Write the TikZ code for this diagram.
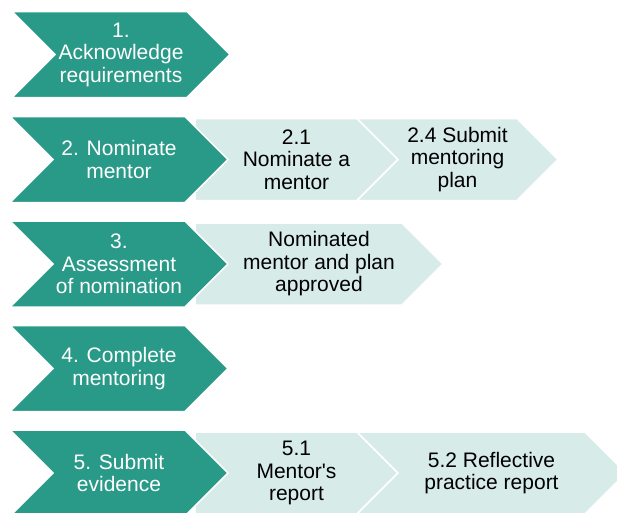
\documentclass[tikz,border=0pt]{standalone}
\usepackage{fontspec}
\setmainfont{Liberation Sans}
\usepackage{tikz}
\usetikzlibrary{shapes.symbols}
\usepackage{xcolor}
\definecolor{darkteal}{RGB}{41,153,136}
\definecolor{paleteal}{RGB}{215,235,232}

\begin{document}
\begin{tikzpicture}[
  x=1pt, y=-1pt,
  stage/.style={signal, signal to=east, signal from=west, signal pointer angle=90,
                fill=darkteal, draw=white, line width=1.5pt, text=white,
                minimum width=218pt, minimum height=86pt, inner sep=0pt,
                align=center, font=\fontsize{21}{22.5}\selectfont},
  task/.style={signal, signal to=east, signal pointer angle=90,
               fill=paleteal, draw=white, line width=1.5pt, text=black,
               minimum height=82pt, inner sep=0pt,
               align=center, font=\fontsize{21}{22.5}\selectfont},
  subtask/.style={task, signal from=west},
  % text of a flat-backed task sits in the middle of the whole arrow
  tasktext/.style={align=center, font=\fontsize{21}{22.5}\selectfont,
                   inner sep=0pt, xshift=20.5pt}
]
  \useasboundingbox (0,0) rectangle (617,512);

  \node[task, minimum width=203pt,
        label={[tasktext]center:{2.1\\Nominate a\\mentor}}] (nommentor) at (276,159.5) {};
  \node[subtask, minimum width=201pt] (subplan) at (457.5,159.5) {2.4 Submit\\mentoring\\plan};
  \node[task, minimum width=248pt,
        label={[tasktext]center:{Nominated\\mentor and plan\\approved}}] (approved) at (298.5,264) {};
  \node[task, minimum width=203pt,
        label={[tasktext]center:{5.1\\Mentor\textquotesingle s\\report}}] (mreport) at (276,473) {};
  \node[subtask, minimum width=269pt] (reflect) at (491.5,473) {5.2 Reflective\\practice report};

  \node[stage] (ack)    at (121,54.5)  {1.\\Acknowledge\\requirements};
  \node[stage] (nom)    at (119,159.5) {2. Nominate\\mentor};
  \node[stage] (assess) at (119,264)   {3.\\Assessment\\of nomination};
  \node[stage] (compl)  at (119,368.5) {4. Complete\\mentoring};
  \node[stage] (evid)   at (119,473)   {5. Submit\\evidence};
\end{tikzpicture}
\end{document}
